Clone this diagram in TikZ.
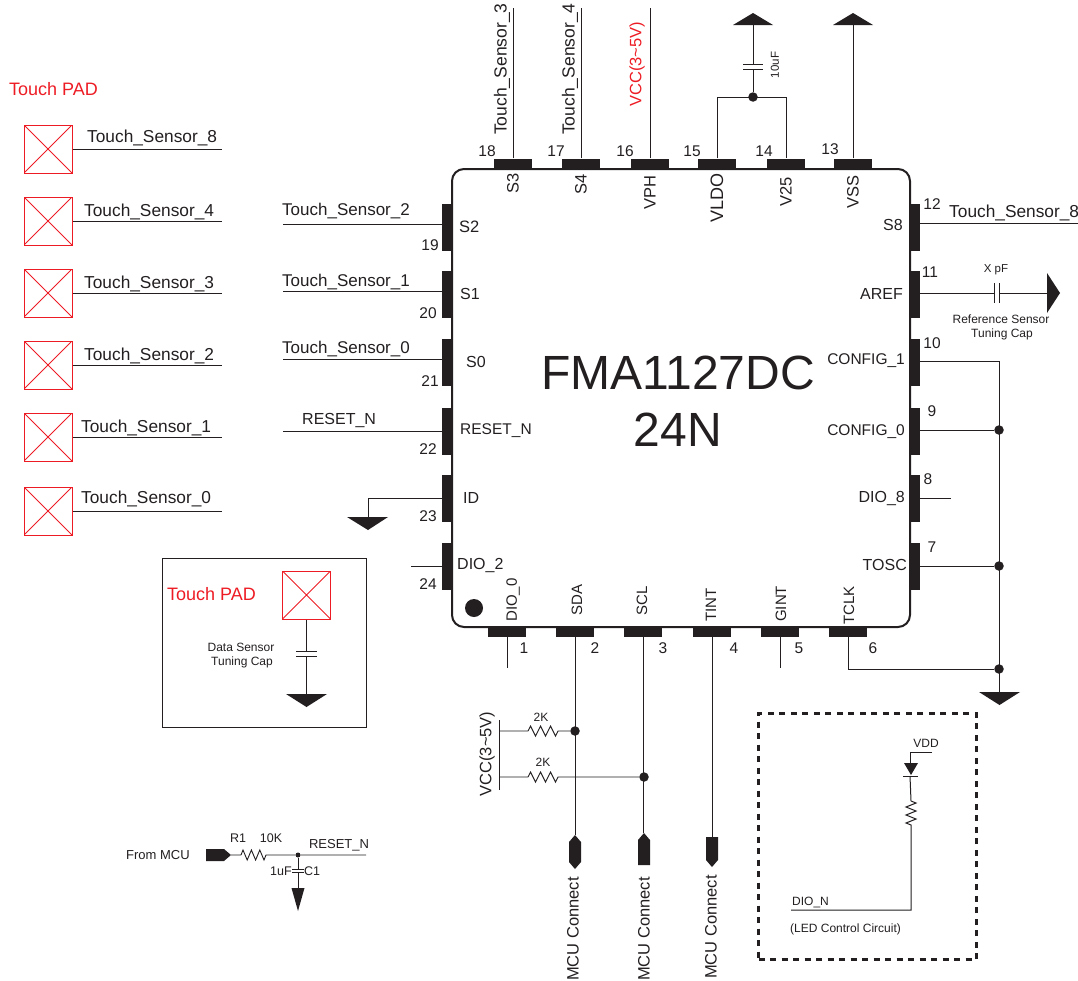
\documentclass[tikz,border=0pt]{standalone}
\usepackage{fontspec}
\setmainfont{Liberation Sans}
\usetikzlibrary{calc}
\definecolor{ink}{HTML}{231F20}
\definecolor{redp}{HTML}{ED1C24}
\tikzset{
  wire/.style={draw=ink,line width=1pt},
  tx/.style={inner sep=0pt,text=ink,font=\fontsize{#1}{#1}\selectfont},
  tx/.default=16,
  rtx/.style={tx=#1,rotate=90},
  rtx/.default=16,
  redt/.style={text=redp},
  pinv/.style={fill=ink,inner sep=0pt,minimum width=10pt,minimum height=47pt},
  pinh/.style={fill=ink,inner sep=0pt,minimum width=38pt,minimum height=10pt},
  dotn/.style={circle,fill=ink,inner sep=0pt,minimum size=9.5pt},
  padbox/.style={draw=redp,line width=1pt,inner sep=0pt,minimum size=48pt,path picture={
    \draw[redp,line width=.8pt] (path picture bounding box.north west)--(path picture bounding box.south east)
    (path picture bounding box.north east)--(path picture bounding box.south west);}},
  resh/.style={to path={(\tikztostart) -- ++(2.5,-5) -- ++(5,10) -- ++(5,-10) -- ++(5,10) -- ++(5,-10) -- ++(5,10) -- ++(2.5,-5) -- (\tikztotarget)}},
  resv/.style={to path={(\tikztostart) -- ++(5,2) -- ++(-10,4) -- ++(10,4) -- ++(-10,4) -- ++(10,4) -- ++(-10,4) -- ++(5,2) -- (\tikztotarget)}},
}
\begin{document}
\begin{tikzpicture}[x=1pt,y=-1pt]
\useasboundingbox (0,0) rectangle (1078,980);
% chip
\node[draw=ink,line width=2pt,rounded corners=12pt,minimum width=458pt,minimum height=458pt,inner sep=0pt] (chip) at (681,398) {};
\node[tx=48] (t1) at (678,373) {FMA1127DC};
\node[tx=48] (t2) at (678,430) {24N};
\node[fill=ink,circle,inner sep=0pt,minimum size=18pt] (mark) at (474,608) {};
% pins
\foreach \n/\x in {p18/513,p17/581,p16/650,p15/717,p14/786,p13/853}
  \node[pinh] (\n) at (\x,163.5) {};
\foreach \n/\x in {p1/507,p2/575,p3/643,p4/712,p5/780,p6/848}
  \node[pinh] (\n) at (\x,632) {};
\foreach \n/\y in {p19/227,p20/294,p21/362,p22/431,p23/498,p24/566}
  \node[pinv] (\n) at (447,\y) {};
\foreach \n/\y in {p12/227,p11/294,p10/362,p9/431,p8/498,p7/566}
  \node[pinv] (\n) at (915,\y) {};
% pin numbers
\foreach \n/\x/\y/\s in {18/487/151/a,17/556/151/b,16/625/151/c,15/692/151/d,14/764/151/e,13/830/149/f,
  12/932/204/g,11/930/272/h,10/932/343/i,9/932/411/j,8/928/479/k,7/932/547/l,
  6/873/648/m,5/799/648/n,4/734/648/o,3/663/648/q,2/595/648/r,1/524/648/s,
  19/430/245/t,20/428/313/u,21/430/381/v,22/428/449/w,23/428/516/x,24/428/584/y}
  \node[tx=15.5] (num\s) at (\x,\y) {\n};
% pin labels
\foreach \n/\t/\x/\s/\o in {a/S3/513/16.5/173,b/S4/581/16.5/174,c/VPH/650/16.5/175,d/VLDO/717/18/173,e/V25/786/16.5/177,f/VSS/853/16.5/175}
  \node[rtx=\s,anchor=east] (lt\n) at (\x,\o) {\t};
\node[tx=16.5,anchor=west] (ll1) at (459,227) {S2};
\node[tx=16,anchor=west] (ll2) at (460,294) {S1};
\node[tx=16,anchor=west] (ll3) at (466,362) {S0};
\node[tx=15.5,anchor=west] (ll4) at (460,431) {RESET\_N};
\node[tx=16,anchor=west] (ll5) at (463,498) {ID};
\node[tx=16,anchor=west] (ll6) at (457,565) {DIO\_2};
\node[tx=16,anchor=east] (lr1) at (903,225) {S8};
\node[tx=16,anchor=east] (lr2) at (903,294) {AREF};
\node[tx=15.5,anchor=east] (lr3) at (905,361) {CONFIG\_1};
\node[tx=15.5,anchor=east] (lr4) at (905,432) {CONFIG\_0};
\node[tx=16,anchor=east] (lr5) at (905,498) {DIO\_8};
\node[tx=16,anchor=east] (lr6) at (907,565) {TOSC};
\node[rtx=15,anchor=west] (lb1) at (513,622) {DIO\_0};
\node[rtx=15,anchor=west] (lb2) at (577,616) {SDA};
\node[rtx=15,anchor=west] (lb3) at (642,616) {SCL};
\node[rtx=15,anchor=west] (lb4) at (711,622) {TINT};
\node[rtx=15,anchor=west] (lb5) at (781,622) {GINT};
\node[rtx=15,anchor=west] (lb6) at (849,625) {TCLK};
% top wires
\coordinate (e18) at (513,8); \coordinate (e17) at (581,8); \coordinate (e16) at (650,8);
\draw[wire] (p18.north) -- (e18);
\draw[wire] (p17.north) -- (e17);
\draw[wire] (p16.north) -- (e16);
\node[rtx=17.5,anchor=west] (s3) at (502,135) {Touch\_Sensor\_3};
\node[rtx=17.5,anchor=west] (s4) at (570,135) {Touch\_Sensor\_4};
\node[rtx=16.5,anchor=west,redt] (vcc) at (637,107) {VCC(3\textasciitilde5V)};
\coordinate (tj) at (753,97);
\coordinate (g1) at (753,25);
\coordinate (g2) at (853,25);
\node[dotn] (d1) at (tj) {};
\draw[wire] (p15.north) |- (p14.north |- d1.center) -- (p14.north);
\coordinate (c1a) at (753,64); \coordinate (c1b) at (753,69);
\draw[wire] (d1) -- (c1b);
\draw[wire] (c1a) -- (g1);
\draw[wire] (743,64) -- (763,64) (743,69) -- (763,69);
\fill[ink] (733,25) -- (773,25) -- (753,13) -- cycle;
\draw[wire] (p13.north) -- (g2);
\fill[ink] (833,25) -- (873,25) -- (853,13) -- cycle;
\node[rtx=11.5] (c10) at (775,65) {10uF};
% left wires
\foreach \n/\y/\t/\x/\ty/\s in {p19/224/Touch\_Sensor\_2/282/211/17,p20/291/Touch\_Sensor\_1/282/282/17,p21/359/Touch\_Sensor\_0/282/349/17,p22/431/RESET\_N/302/420/16}{
  \coordinate (w\n) at (283,\y);
  \draw[wire] (w\n) -- (w\n -| \n.west);
  \node[tx=\s,anchor=west] (lab\n) at (\x,\ty) {\t};
}
\coordinate (g3) at (368,517);
\draw[wire] (p23.west |- 0,498) -- (368,498) -- (g3);
\fill[ink] (347,517) -- (388,517) -- (368,530) -- cycle;
\coordinate (e24) at (411,566);
\draw[wire] (e24) -- (p24.west |- e24);
% right wires
\coordinate (e12) at (1078,223.5);
\draw[wire] (p12.east |- e12) -- (e12);
\node[tx=17.3,anchor=west] (ts8r) at (949,213) {Touch\_Sensor\_8};
\coordinate (c2a) at (994.5,293); \coordinate (c2b) at (999.5,293); \coordinate (e11) at (1047,293);
\draw[wire] (p11.east |- c2a) -- (c2a);
\draw[wire] (c2b) -- (e11);
\draw[wire] (994.5,283) -- (994.5,303) (999.5,283) -- (999.5,303);
\fill[ink] (1047,273) -- (1047,313) -- (1060,293) -- cycle;
\node[tx=11.5] (xpf) at (996,270) {X pF};
\node[tx=12] (rs1) at (1001,319) {Reference Sensor};
\node[tx=12] (rs2) at (1002,334) {Tuning Cap};
\node[dotn] (d2) at (999,430) {};
\node[dotn] (d3) at (999,566) {};
\node[dotn] (d4) at (999,669) {};
\coordinate (g4) at (999,692);
\draw[wire] (p10.east |- 0,361) -- (999,361) -- (g4);
\draw[wire] (p9.east |- d2) -- (d2);
\draw[wire] (p7.east |- d3) -- (d3);
\fill[ink] (979,692) -- (1020,692) -- (999.5,705) -- cycle;
\coordinate (e8) at (951,498);
\draw[wire] (p8.east |- e8) -- (e8);
% bottom wires
\coordinate (e1) at (507,668); \coordinate (e5) at (780,668);
\draw[wire] (p1.south) -- (e1);
\draw[wire] (p5.south) -- (e5);
\draw[wire] (p6.south) |- (d4);
% MCU connectors
\coordinate (m2) at (575,835); \coordinate (m3) at (644,833); \coordinate (m4) at (712,837);
\draw[wire] (p2.south) -- (m2);
\draw[wire] (p3.south) -- (p3.south |- m3);
\draw[wire] (p4.south) -- (m4);
\fill[ink] (575,835) -- (581,842) -- (581,862) -- (575,869) -- (569,862) -- (569,842) -- cycle;
\fill[ink] (644,833) -- (650,840) -- (650,865) -- (638,865) -- (638,840) -- cycle;
\fill[ink] (706,837) -- (718,837) -- (718,860) -- (712,867) -- (706,860) -- cycle;
\node[rtx=16.5,anchor=west] (mc1) at (573,981) {MCU Connect};
\node[rtx=16.5,anchor=west] (mc2) at (644,981) {MCU Connect};
\node[rtx=16.5,anchor=west] (mc3) at (711,979) {MCU Connect};
% pullups
\coordinate (vbt) at (499,720); \coordinate (vbb) at (499,790);
\draw[wire] (vbt) -- (vbb);
\node[rtx=16.5] (vcc2) at (487,754) {VCC(3\textasciitilde5V)};
\node[dotn] (d5) at (575,731) {};
\node[dotn] (d6) at (644,777) {};
\coordinate (r1a) at (528,731); \coordinate (r1b) at (558,731);
\coordinate (r2a) at (528,777); \coordinate (r2b) at (558,777);
\draw[wire,line width=.9pt] (vbt |- r1a) -- (r1a) to[resh] (r1b) -- (d5);
\draw[wire,line width=.9pt] (vbt |- r2a) -- (r2a) to[resh] (r2b) -- (d6);
\node[tx=12] (k1) at (541,717) {2K};
\node[tx=12] (k2) at (543,762) {2K};
% touch pads
\node[tx=18,anchor=west,redt] (tp) at (9,89) {Touch PAD};
\foreach \n/\y/\t/\x/\ty in {8/149/Touch\_Sensor\_8/87/138,4/221/Touch\_Sensor\_4/84/212,3/293/Touch\_Sensor\_3/84/284,2/365/Touch\_Sensor\_2/84/356,1/437/Touch\_Sensor\_1/81/428,0/511/Touch\_Sensor\_0/81/499}{
  \node[padbox] (pad\n) at (48,\y) {};
  \coordinate (pe\n) at (222,\y);
  \draw[wire] (pad\n.east) -- (pe\n);
  \node[tx=17.3,anchor=west] (pt\n) at (\x,\ty) {\t};
}
% inset box
\node[draw=ink,line width=1pt,minimum width=204pt,minimum height=169pt,inner sep=0pt] (inset) at (264,642.5) {};
\node[padbox] (padx) at (306.5,595) {};
\node[tx=18,anchor=west,redt] (tp2) at (167,594) {Touch PAD};
\coordinate (c3a) at (306.5,651); \coordinate (c3b) at (306.5,656); \coordinate (g5) at (306.5,694);
\draw[wire] (padx.south) -- (c3a);
\draw[wire] (c3b) -- (g5);
\draw[wire] (296,651) -- (317,651) (296,656) -- (317,656);
\fill[ink] (286,694) -- (327,694) -- (306.5,707) -- cycle;
\node[tx=12] (ds1) at (241,647) {Data Sensor};
\node[tx=12] (ds2) at (242,662) {Tuning Cap};
% reset network
\node[tx=13,anchor=west] (fm) at (126,855) {From MCU};
\fill[ink] (206,849) -- (224,849) -- (231,855) -- (224,861) -- (206,861) -- cycle;
\coordinate (rc) at (231,855);
\coordinate (r3a) at (241,855); \coordinate (r3b) at (266,855);
\node[circle,fill=ink,inner sep=0pt,minimum size=5pt] (d7) at (298,855) {};
\coordinate (e9) at (366,855);
\draw[wire,line width=.9pt] (rc) -- (r3a) to[to path={(\tikztostart) -- ++(2,-5) -- ++(4.2,10) -- ++(4.2,-10) -- ++(4.2,10) -- ++(4.2,-10) -- ++(4.2,10) -- ++(2,-5) -- (\tikztotarget)}] (r3b) -- (d7) -- (e9);
\node[tx=12.5] (r1t) at (238,838) {R1};
\node[tx=12.5] (r1v) at (271,838) {10K};
\node[tx=13] (rn) at (339,845) {RESET\_N};
\node[tx=12.5] (uf) at (281,871) {1uF};
\node[tx=12.5] (c1t) at (312,871) {C1};
\coordinate (c4a) at (298,869); \coordinate (c4b) at (298,872); \coordinate (g6) at (298,888);
\draw[wire] (d7) -- (c4a);
\draw[wire] (c4b) -- (g6);
\draw[wire,line width=.8pt] (292,869) -- (304,869) (292,872) -- (304,872);
\fill[ink] (291.5,888) -- (304.5,888) -- (298,911) -- cycle;
% LED box
\node[draw=ink,line width=2.4pt,dash pattern=on 6pt off 5.5pt,minimum width=218pt,minimum height=246pt,inner sep=0pt] (ledbox) at (867.5,836.5) {};
\node[tx=12] (vdd) at (926,743) {VDD};
\coordinate (v1) at (932,752); \coordinate (v2) at (910,752);
\coordinate (ledt) at (910,764); \coordinate (ledb) at (910,776);
\coordinate (r4a) at (911,801); \coordinate (r4b) at (911,825);
\coordinate (dn) at (791,910);
\draw[wire] (v1) -- (v2) -- (ledt);
\fill[ink] (904,763) -- (918,763) -- (911,775) -- cycle;
\draw[wire] (903,776) -- (918,776);
\draw[wire] (ledb) -- (r4a) to[resv] (r4b) -- (dn -| r4b) -- (dn);
\node[tx=12,anchor=west] (dio) at (792,902) {DIO\_N};
\node[tx=12,anchor=west] (ledc) at (790,929) {(LED Control Circuit)};
\end{tikzpicture}
\end{document}
